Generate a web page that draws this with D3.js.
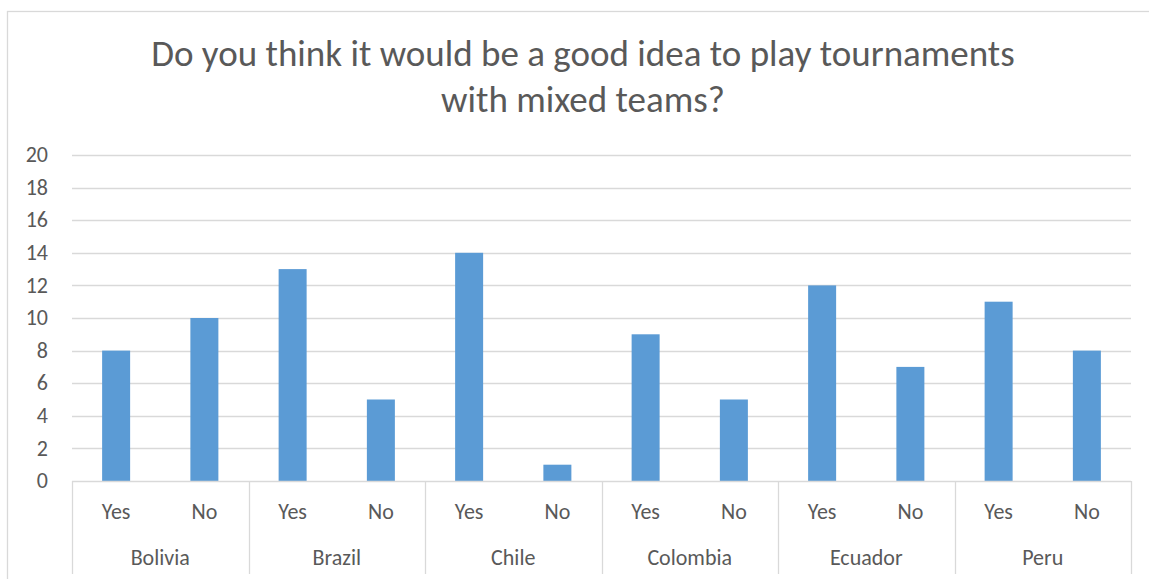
<!DOCTYPE html>
<html><head><meta charset="utf-8">
<script src="https://cdn.jsdelivr.net/npm/d3@7"></script>
<style>body{margin:0;background:#fff;} text{font-family:Carlito,"Open Sans","Noto Sans",sans-serif;fill:#595959;}</style>
</head><body>
<svg id="c" width="1149" height="579"></svg>
<script>
const countries = ["Bolivia","Brazil","Chile","Colombia","Ecuador","Peru"];
const answers = ["Yes","No"];
const yesValues = [8,13,14,9,12,11];
const noValues = [10,5,1,5,7,8];
const yTicks = [0,2,4,6,8,10,12,14,16,18,20];
const titleLines = ["Do you think it would be a good idea to play tournaments","with mixed teams?"];

const data = [];
countries.forEach((c,i)=>{ data.push({country:c,answer:"Yes",value:yesValues[i]}); data.push({country:c,answer:"No",value:noValues[i]}); });

const svg = d3.select("#c");
const L=72,R=1131,T=155,B=481;
svg.append("rect").attr("x",7.5).attr("y",11.5).attr("width",1160).attr("height",580)
  .attr("fill","none").attr("stroke","#d9d9d9").attr("stroke-width",1.3);

const x0 = d3.scaleBand().domain(countries).range([L,R]).padding(0);
const x1 = d3.scaleBand().domain(answers).range([0,x0.bandwidth()]).padding(0);
const y = d3.scaleLinear().domain([0,20]).range([B,T]);

svg.append("g").selectAll("line").data(yTicks.filter(t=>t>0)).join("line")
  .attr("x1",L).attr("x2",R).attr("y1",d=>Math.round(y(d))+0.5).attr("y2",d=>Math.round(y(d))+0.5)
  .attr("stroke","#d9d9d9").attr("stroke-width",1.3);

svg.append("g").selectAll("text").data(yTicks).join("text")
  .attr("x",48).attr("y",d=>y(d)).attr("dy","0.33em").attr("text-anchor","end")
  .attr("font-size",22).text(d=>d);

const bw = 28;
svg.append("g").selectAll("rect").data(data).join("rect")
  .attr("x",d=>x0(d.country)+x1(d.answer)+x1.bandwidth()/2-bw/2)
  .attr("width",bw)
  .attr("y",d=>y(d.value)).attr("height",d=>y(0)-y(d.value))
  .attr("fill","#5b9bd5");

svg.append("line").attr("x1",L).attr("x2",R).attr("y1",B+0.5).attr("y2",B+0.5).attr("stroke","#d9d9d9").attr("stroke-width",1.3);
const seps = countries.map(c=>x0(c)).concat([R]);
svg.append("g").selectAll("line").data(seps).join("line")
  .attr("x1",d=>Math.round(d)+0.5).attr("x2",d=>Math.round(d)+0.5).attr("y1",B).attr("y2",574)
  .attr("stroke","#d9d9d9").attr("stroke-width",1.3);

svg.append("g").selectAll("text").data(data).join("text")
  .attr("x",d=>x0(d.country)+x1(d.answer)+x1.bandwidth()/2).attr("y",518.5)
  .attr("text-anchor","middle").attr("font-size",22).text(d=>d.answer);
svg.append("g").selectAll("text").data(countries).join("text")
  .attr("x",d=>x0(d)+x0.bandwidth()/2).attr("y",565)
  .attr("text-anchor","middle").attr("font-size",22).text(d=>d);

svg.append("g").selectAll("text").data(titleLines).join("text")
  .attr("x",583).attr("y",(d,i)=>66+i*46).attr("text-anchor","middle")
  .attr("font-size",37).text(d=>d);
</script>
</body></html>
